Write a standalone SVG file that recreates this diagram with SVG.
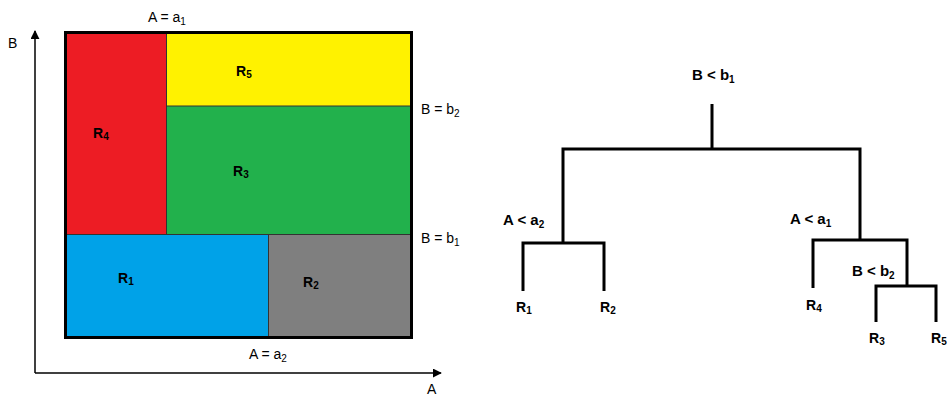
<svg xmlns="http://www.w3.org/2000/svg" width="947" height="398" viewBox="0 0 947 398">
<style>
text{font-family:"Liberation Sans",Arial,sans-serif;fill:#000}
.lbl{font-size:14px}
.b{font-size:15px;font-weight:bold}
.r{font-size:14px;font-weight:bold}
.s{font-size:10px}
.div{stroke:#333;stroke-width:1}
.tree{fill:none;stroke:#000;stroke-width:3}
.ax{stroke:#000;stroke-width:1.5;fill:none}
</style>
<defs>
<marker id="arr" viewBox="0 0 10 10" refX="9" refY="5" markerWidth="9" markerHeight="9" markerUnits="userSpaceOnUse" orient="auto">
<path d="M0,0 L10,5 L0,10 z" fill="#000"/>
</marker>
</defs>
<g id="axes">
<line class="ax" x1="35" y1="373" x2="35" y2="31" marker-end="url(#arr)"/>
<line class="ax" x1="35" y1="373" x2="441" y2="373" marker-end="url(#arr)"/>
<text class="lbl" x="8" y="48">B</text>
<text class="lbl" x="427" y="394">A</text>
</g>
<g id="regions">
<rect id="R4" x="65" y="32" width="101.5" height="202.5" fill="#ed1c24"/>
<rect id="R5" x="166.5" y="32" width="245" height="74" fill="#fff200"/>
<rect id="R3" x="166.5" y="106" width="245" height="128.5" fill="#22b14c"/>
<rect id="R1" x="65" y="234.5" width="203.5" height="103" fill="#00a2e8"/>
<rect id="R2" x="268.5" y="234.5" width="143" height="103" fill="#7f7f7f"/>
<line class="div" x1="166.5" y1="32" x2="166.5" y2="234.5"/>
<line class="div" x1="166.5" y1="106" x2="411.5" y2="106"/>
<line class="div" x1="65" y1="234.5" x2="411.5" y2="234.5"/>
<line class="div" x1="268.5" y1="234.5" x2="268.5" y2="337.5"/>
<rect x="65.5" y="32.5" width="346" height="305" fill="none" stroke="#000" stroke-width="3"/>
<text class="r" x="236" y="76">R<tspan class="s" dy="2">5</tspan></text>
<text class="r" x="93" y="138">R<tspan class="s" dy="2">4</tspan></text>
<text class="r" x="233" y="176">R<tspan class="s" dy="2">3</tspan></text>
<text class="r" x="118" y="283">R<tspan class="s" dy="2">1</tspan></text>
<text class="r" x="303" y="287">R<tspan class="s" dy="2">2</tspan></text>
<text class="lbl" x="148" y="22">A = a<tspan class="s" dy="3">1</tspan></text>
<text class="lbl" x="421" y="114">B = b<tspan class="s" dy="3">2</tspan></text>
<text class="lbl" x="421" y="243">B = b<tspan class="s" dy="3">1</tspan></text>
<text class="lbl" x="249" y="359">A = a<tspan class="s" dy="3">2</tspan></text>
</g>
<g id="connectors">
<path class="tree" d="M712,104 V149 M563,243 V149 H860 V240"/>
<path class="tree" d="M523,291 V243 H604 V291"/>
<path class="tree" d="M813,288 V240 H907 V286"/>
<path class="tree" d="M876,322 V286 H936 V322"/>
</g>
<g id="n-root"><text class="b" x="692" y="80">B &lt; b<tspan class="s" dy="3">1</tspan></text></g>
<g id="n-a2"><text class="b" x="503" y="225">A &lt; a<tspan class="s" dy="3">2</tspan></text></g>
<g id="n-a1"><text class="b" x="790" y="224">A &lt; a<tspan class="s" dy="3">1</tspan></text></g>
<g id="n-b2"><text class="b" x="852" y="276">B &lt; b<tspan class="s" dy="3">2</tspan></text></g>
<g id="n-R1"><text class="r" x="516" y="312">R<tspan class="s" dy="2">1</tspan></text></g>
<g id="n-R2"><text class="r" x="600" y="312">R<tspan class="s" dy="2">2</tspan></text></g>
<g id="n-R4"><text class="r" x="806" y="310">R<tspan class="s" dy="2">4</tspan></text></g>
<g id="n-R3"><text class="r" x="869" y="343">R<tspan class="s" dy="2">3</tspan></text></g>
<g id="n-R5"><text class="r" x="931" y="343">R<tspan class="s" dy="2">5</tspan></text></g>
</svg>
